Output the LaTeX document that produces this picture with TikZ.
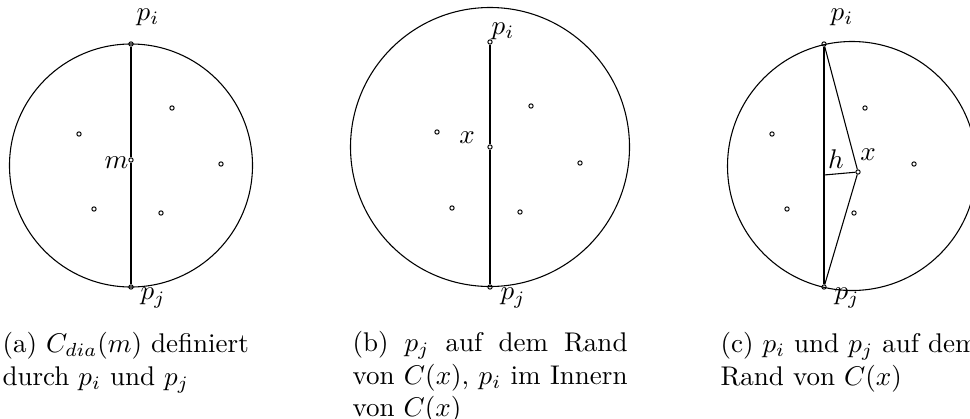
\documentclass[tikz,border=0pt]{standalone}
\usepackage{amsmath}

\begin{document}
\begin{tikzpicture}[
    x=0.37pt, y=-0.37pt,
    pnt/.style={circle, draw, inner sep=0pt, minimum size=1.6pt, line width=0.35pt},
    lbl/.style={inner sep=0pt},
    captext/.style={anchor=north west, inner sep=0pt, align=left}
]
\useasboundingbox (0,0) rectangle (970,418);

% (a) diameter circle
\coordinate (ac) at (131,165.5);
\draw (ac) circle[radius=121.5];
\node[pnt] (api) at (131,44) {};
\node[pnt] (apj) at (131,287) {};
\node[pnt] (am) at (131,160) {};
\node[pnt] (aq1) at (79,134) {};
\node[pnt] (aq2) at (172,108) {};
\node[pnt] (aq3) at (221,164) {};
\node[pnt] (aq4) at (94,209) {};
\node[pnt] (aq5) at (161,213) {};
\draw (api) -- (am);
\draw (am) -- (apj);
\node[lbl] at (148,17) {$p_i$};
\node[lbl, anchor=base east] at (129,168) {$m$};
\node[lbl] at (153,298) {$p_j$};

% (b) p_j on the boundary
\coordinate (bc) at (490,147);
\draw (bc) circle[radius=139.5];
\node[pnt] (bpi) at (490,42) {};
\node[pnt] (bpj) at (490,287) {};
\node[pnt] (bx) at (490,147) {};
\node[pnt] (bq1) at (437,132) {};
\node[pnt] (bq2) at (531,106) {};
\node[pnt] (bq3) at (580,163) {};
\node[pnt] (bq4) at (452,208) {};
\node[pnt] (bq5) at (520,212) {};
\draw (bpi) -- (bx);
\draw (bx) -- (bpj);
\node[lbl] at (503,31) {$p_i$};
\node[lbl] at (467,138) {$x$};
\node[lbl] at (513,298) {$p_j$};

% (c) p_i and p_j on the boundary
\coordinate (cc) at (852,166);
\draw (cc) circle[radius=124.5];
\node[pnt] (cpi) at (824,44) {};
\node[pnt] (cpj) at (824,287) {};
\node[pnt] (cx) at (858,172) {};
\coordinate (ch) at (824,175);
\node[pnt] (cq1) at (772,134) {};
\node[pnt] (cq2) at (865,108) {};
\node[pnt] (cq3) at (914,164) {};
\node[pnt] (cq4) at (787,209) {};
\node[pnt] (cq5) at (854,213) {};
\draw (cpi) -- (cpj);
\draw (cpi) -- (cx);
\draw (cx) -- (cpj);
\draw (ch) -- (cx);
\node[lbl] at (842,17) {$p_i$};
\node[lbl] at (868,155) {$x$};
\node[lbl] at (836,159) {$h$};
\node[lbl] at (847,298) {$p_j$};

% captions
\node[captext] (acap) at (2,332) {(a) $C_{dia}(m)$ definiert\\durch $p_i$ und $p_j$};
\node[captext, align=justify, text width=101.75pt] (bcap) at (352,331) {(b) $p_j$ auf dem Rand\linebreak von $C(x)$, $p_i$ im Innern\linebreak von $C(x)$};
\node[captext] (ccap) at (720,332) {(c) $p_i$ und $p_j$ auf dem\\Rand von $C(x)$};
\end{tikzpicture}
\end{document}
